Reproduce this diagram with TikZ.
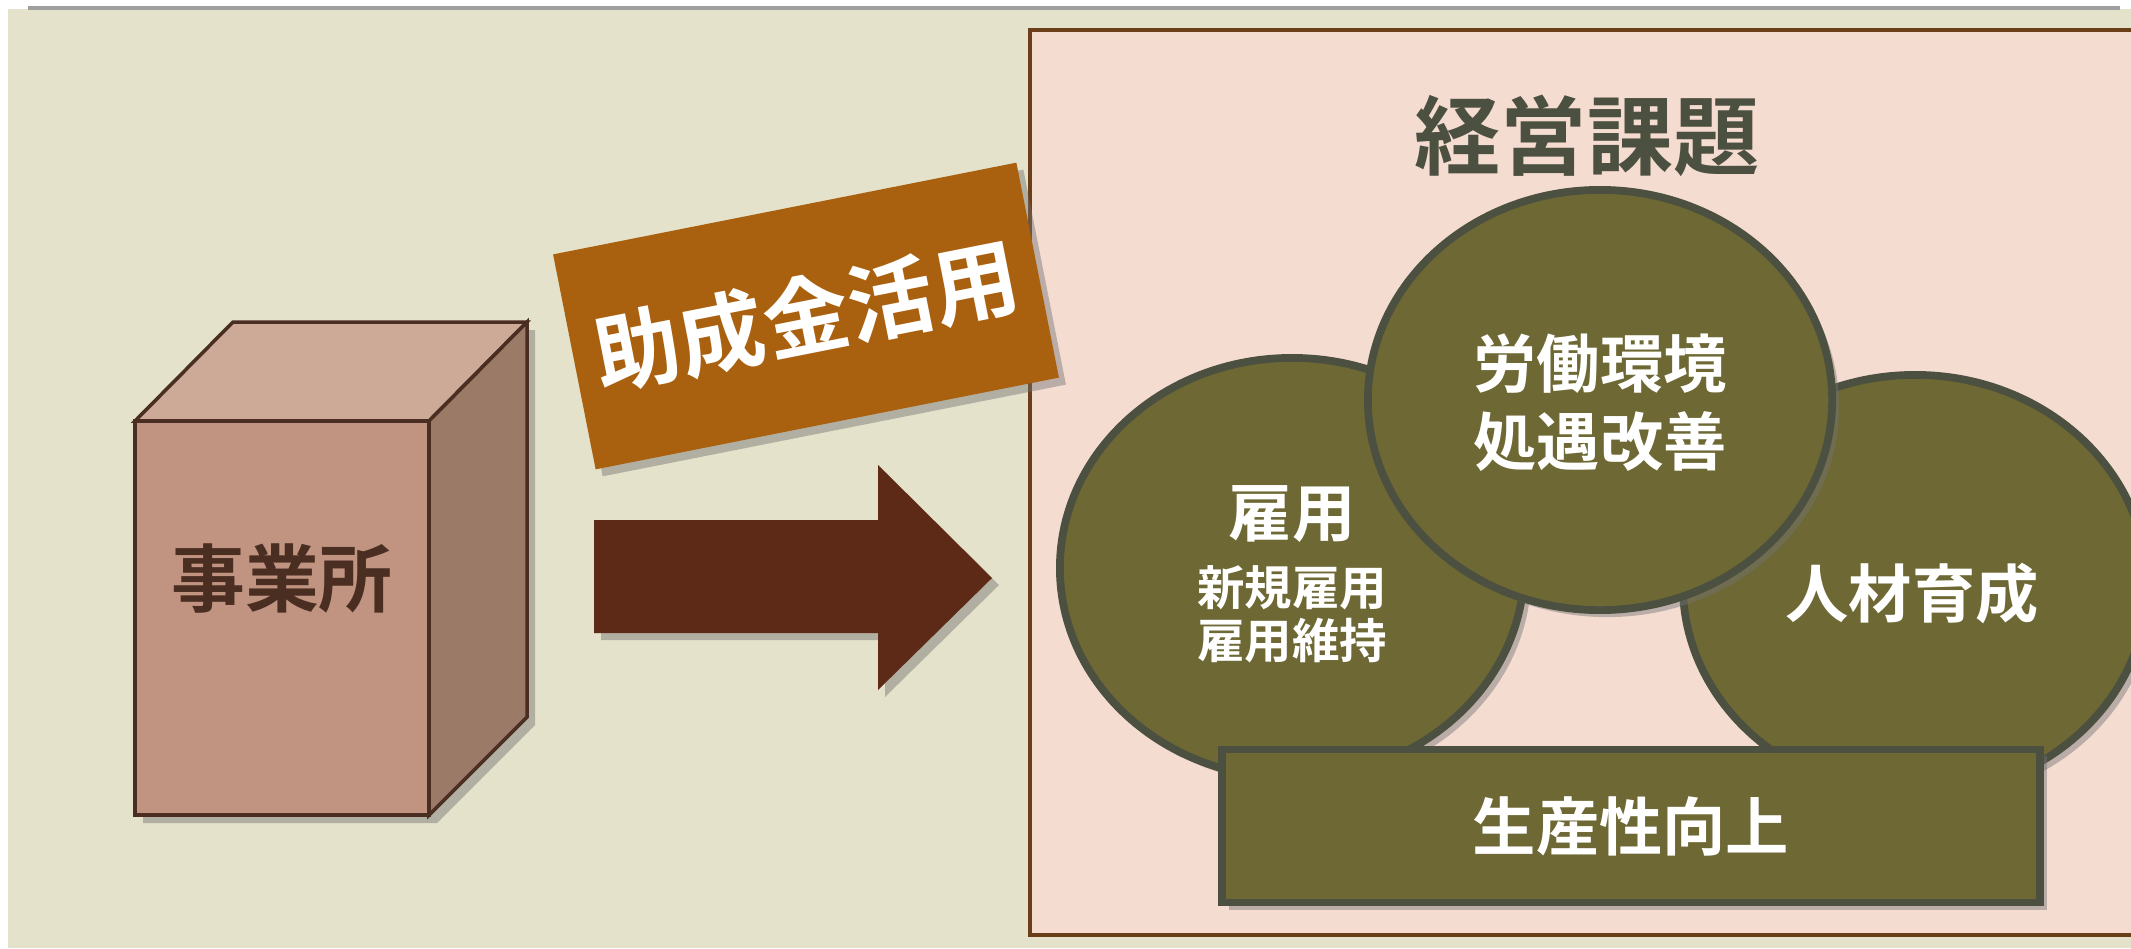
\documentclass[tikz,border=0pt]{standalone}
\usepackage{fontspec}
\setmainfont{Noto Sans CJK JP}[BoldFont={Noto Sans CJK JP Bold}]
\usetikzlibrary{shapes.geometric,shadows}
\definecolor{bgbeige}{HTML}{E4E2CA}
\definecolor{bgpink}{HTML}{F5DCD0}
\definecolor{pinkline}{HTML}{6B3E1A}
\definecolor{boxfront}{HTML}{C09480}
\definecolor{boxtop}{HTML}{CDAA98}
\definecolor{boxside}{HTML}{9C7A68}
\definecolor{boxline}{HTML}{4A2E22}
\definecolor{bannerorange}{HTML}{A9600F}
\definecolor{arrowbrown}{HTML}{5C2A16}
\definecolor{issueolive}{HTML}{6D6834}
\definecolor{issueline}{HTML}{4B5040}

\begin{document}
\begin{tikzpicture}[x=0.01cm, y=-0.01cm,
		softshadow/.style={drop shadow={shadow xshift=0.07cm, shadow yshift=-0.07cm, opacity=0.45, fill=black!55}},
		issue/.style={ellipse, draw=issueline, line width=2.2pt, fill=issueolive, softshadow,
			minimum width=4.64cm, minimum height=4.2cm, inner sep=0pt},
		bigtxt/.style={text=white, font=\fontsize{18}{22}\selectfont\bfseries},
		smalltxt/.style={text=white, font=\fontsize{13.5}{16}\selectfont\bfseries}]
	\useasboundingbox (0,0) rectangle (2131,948);
	\clip (0,0) rectangle (2131,948);
	\fill[bgbeige] (8,9) rectangle (2131,948);
	\draw[gray!75, line width=1pt] (28,8) -- (2120,8);

	% management issues frame
	\draw[pinkline, line width=1pt, fill=bgpink] (1030,30) rectangle (2150,935);

	% office box
	\fill[black!55, opacity=0.45] (143,429) -- (241,330) -- (535,330) -- (535,725) -- (437,823) -- (143,823) -- cycle;
	\draw[boxline, line width=1pt, fill=boxtop] (135,421) -- (233,322) -- (527,322) -- (429,421) -- cycle;
	\draw[boxline, line width=1pt, fill=boxside] (429,421) -- (527,322) -- (527,717) -- (429,815) -- cycle;
	\draw[boxline, line width=1pt, fill=boxfront] (135,421) rectangle (429,815);
	\node[text=boxline, font=\fontsize{21}{24}\selectfont\bfseries] (office) at (282,578) {事業所};

	% subsidy banner
	\node[fill=bannerorange, rotate=11.2, softshadow, minimum width=4.72cm, minimum height=2.19cm,
		text=white, font=\fontsize{24.5}{28}\selectfont\bfseries] (subsidy) at (806,316) {助成金活用};

	% big arrow
	\fill[arrowbrown, softshadow] (594,520) -- (878,520) -- (878,465) -- (992,578) -- (878,690) -- (878,633) -- (594,633) -- cycle;

	% management issues
	\node[text=issueline, font=\fontsize{24.5}{28}\selectfont\bfseries] (title) at (1587,136) {経営課題};

	\node[issue] (employ) at (1292,568) {};
	\node[issue] (training) at (1915,585) {};
	\node[issue] (workenv) at (1600,400) {};
	\node[draw=issueline, line width=2.2pt, fill=issueolive, softshadow, minimum width=8.17cm,
		minimum height=1.53cm] (productivity) at (1631,826) {};

	\node[bigtxt] (workenvA) at (1600,364) {労働環境};
	\node[bigtxt] (workenvB) at (1600,442) {処遇改善};
	\node[bigtxt] (employA) at (1292,514) {雇用};
	\node[smalltxt] (employB) at (1292,588) {新規雇用};
	\node[smalltxt] (employC) at (1292,641) {雇用維持};
	\node[bigtxt] (trainingtxt) at (1912,594) {人材育成};
	\node[bigtxt] (productivitytxt) at (1631,826) {生産性向上};
\end{tikzpicture}
\end{document}
